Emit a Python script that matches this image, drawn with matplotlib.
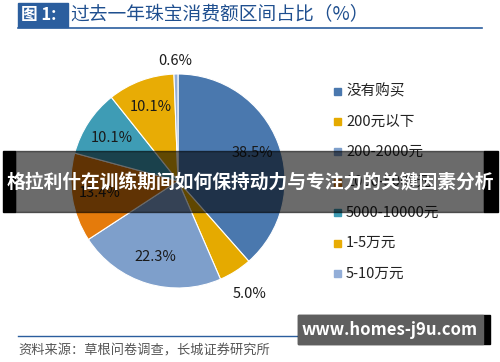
import numpy as np
import matplotlib
matplotlib.use('Agg')
import matplotlib.pyplot as plt
from matplotlib.patches import Rectangle

plt.rcParams['font.family'] = ['Noto Sans CJK SC', 'DejaVu Sans']

# data
categories = ['没有购买', '200元以下', '200-2000元', '2000-5000元',
              '5000-10000元', '1-5万元', '5-10万元']
shares = [38.5, 5.0, 22.3, 13.4, 10.1, 10.1, 0.6]
colors = ['#4A78AE', '#E5AA00', '#7E9FCB', '#E57B0B', '#3E9CB5', '#E8AC05', '#93AED8']

title_tag = '图 1:'
title_text = '过去一年珠宝消费额区间占比（%）'
source_text = '资料来源：草根问卷调查，长城证券研究所'
banner_text = '格拉利什在训练期间如何保持动力与专注力的关键因素分析'
watermark = 'www.homes-j9u.com'

W, H = 500, 362
fig = plt.figure(figsize=(W / 100, H / 100), dpi=100)

def fx(px):
    return px / W

def fy(py):
    return 1 - py / H

# pie axes, centered at (178, 181) px, 240 px square
ax = fig.add_axes([fx(58), fy(301), 240 / W, 240 / H])
R = 107 / 120
wedges, _ = ax.pie(shares, colors=colors, startangle=90, counterclock=False,
                   radius=R, wedgeprops=dict(edgecolor='white', linewidth=0.8))
ax.set_xlim(-1, 1)
ax.set_ylim(-1, 1)
ax.set_aspect('equal')
ax.axis('off')

for w, v in zip(wedges, shares):
    ang = np.deg2rad((w.theta1 + w.theta2) / 2)
    if v < 1:
        r = R * 1.12
    elif v <= 5:
        r = R * 1.25
    else:
        r = R * 0.74
    ax.text(r * np.cos(ang), r * np.sin(ang), f'{v:.1f}%', ha='center', va='center',
            fontsize=10.5, color='#1a1a1a')

# legend
for i, c in enumerate(categories):
    y = 91 + i * 30.4
    fig.patches.append(Rectangle((fx(334), fy(y + 3.5)), 7 / W, 7 / H, color=colors[i],
                                 transform=fig.transFigure))
    fig.text(fx(346), fy(y), c, fontsize=10.5, va='center', ha='left', color='#222222')

# title
fig.patches.append(Rectangle((fx(18), fy(27)), 50 / W, 24 / H, color='#2B5E9E',
                             transform=fig.transFigure))
fig.text(fx(21), fy(15), title_tag, fontsize=12, color='white', va='center',
         fontweight='bold')
fig.text(fx(70), fy(15), title_text, fontsize=13.5, color='#1F4F8F', va='center')
fig.add_artist(plt.Line2D([fx(18), fx(482)], [fy(28), fy(28)], color='#2B5E9E', lw=1.2))

# source
fig.add_artist(plt.Line2D([fx(18), fx(482)], [fy(336), fy(336)], color='#2B5E9E', lw=1.0))
fig.text(fx(18), fy(351), source_text, fontsize=9.5, color='#555555', va='center',
         style='italic')

# overlay banner (semi-transparent, black ends)
fig.patches.append(Rectangle((fx(3), fy(212)), 12 / W, 61 / H, color='black',
                             transform=fig.transFigure, zorder=5))
fig.patches.append(Rectangle((fx(484), fy(212)), 14 / W, 61 / H, color='black',
                             transform=fig.transFigure, zorder=5))
fig.patches.append(Rectangle((fx(15), fy(212)), 469 / W, 61 / H, color='black',
                             alpha=0.58, transform=fig.transFigure, zorder=6))
fig.text(0.5, fy(183), banner_text, fontsize=13.5, color='white', fontweight='bold',
         ha='center', va='center', zorder=7)

# watermark box
fig.patches.append(Rectangle((fx(298), fy(344)), 192 / W, 29 / H, color='black',
                             transform=fig.transFigure, zorder=5))
fig.patches.append(Rectangle((fx(298), fy(344)), 185 / W, 29 / H, color='#5f5f5f',
                             transform=fig.transFigure, zorder=6))
fig.text(fx(390), fy(330), watermark, fontsize=12, color='white', fontweight='bold',
         ha='center', va='center', zorder=7)

fig.savefig('out.png', dpi=100)
